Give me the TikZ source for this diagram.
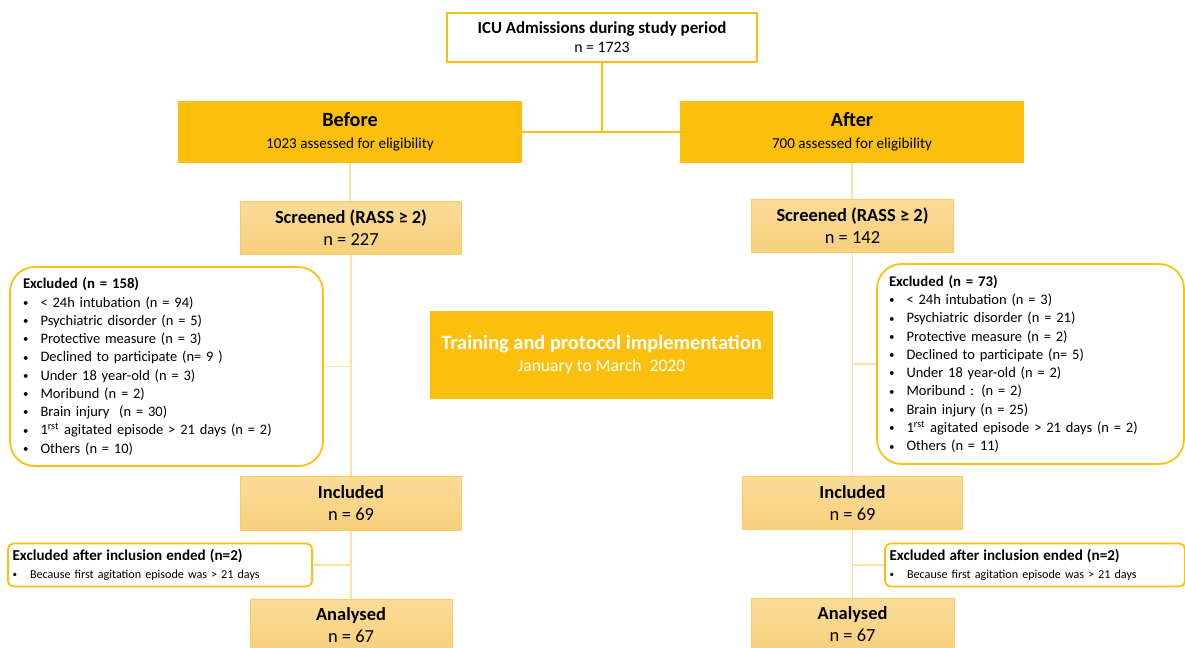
\documentclass[tikz,border=0pt]{standalone}
\usepackage{fontspec}
\setmainfont{Carlito}
\usepackage{tikz}
\usetikzlibrary{positioning}
\definecolor{fcgold}{RGB}{252,192,12}
\definecolor{fctop}{RGB}{250,219,152}
\definecolor{fcbot}{RGB}{248,208,124}
\definecolor{fcedge}{RGB}{250,204,100}
\definecolor{fcline}{RGB}{252,226,160}

\newcommand{\itm}[1]{\makebox[0.35cm][l]{\raisebox{0.1ex}{\scalebox{0.75}{\textbullet}}}#1}

\begin{document}
\begin{tikzpicture}[x=0.02cm, y=-0.02cm,
  topbox/.style={draw=fcgold, line width=1pt, fill=white, minimum width=6.2cm, minimum height=0.98cm, align=center, font=\fontsize{9}{10.8}\selectfont},
  phasebox/.style={fill=fcgold, minimum width=6.88cm, minimum height=1.24cm, align=center, font=\fontsize{8.6}{12.5}\selectfont},
  countbox/.style={draw=fcedge, line width=0.5pt, top color=fctop, bottom color=fcbot, minimum width=4.42cm, minimum height=1.07cm, align=center, font=\fontsize{10.5}{12.5}\selectfont},
  exclbox/.style={draw=fcgold, line width=1pt, rounded corners=14pt, fill=white, align=left, font=\fontsize{8.25}{10.4}\selectfont},
  postbox/.style={draw=fcgold, line width=1pt, rounded corners=3pt, fill=white, align=left, inner xsep=0.09cm, minimum height=0.76cm, font=\fontsize{6.9}{10.2}\selectfont},
  mainline/.style={draw=fcgold, line width=1pt},
  sideline/.style={draw=fcline, line width=1pt}]
  \useasboundingbox (0,0) rectangle (1185,648);

  % Top
  \node[topbox] (icu) at (602,37.5) {{\bfseries\fontsize{9.6}{10.8}\selectfont ICU Admissions during study period}\\n = 1723};

  % Periods
  \node[phasebox] (before) at (350,132) {{\bfseries\fontsize{11.5}{12.5}\selectfont Before}\\1023 assessed for eligibility};
  \node[phasebox] (after) at (852,132) {{\bfseries\fontsize{11.5}{12.5}\selectfont After}\\700 assessed for eligibility};

  \node[fill=fcgold, minimum width=6.86cm, minimum height=1.76cm, align=center, text=white, font=\fontsize{10}{12.5}\selectfont] (train) at (601.5,355)
    {{\bfseries\fontsize{11.6}{12.5}\selectfont Training and protocol implementation}\\January to March~ 2020};

  % Before column
  \node[countbox] (scrA) at (351,228) {\textbf{Screened (RASS ≥ 2)}\\n = 227};
  \node[exclbox, minimum height=3.98cm, text width=5.74cm, inner xsep=0.26cm] (excA) at (166.5,366.5) {{\bfseries\fontsize{8.4}{10.4}\selectfont Excluded (n = 158)}\\
    \itm{< 24h intubation (n = 94)}\\
    \itm{Psychiatric disorder (n = 5)}\\
    \itm{Protective measure (n = 3)}\\
    \itm{Declined to participate (n= 9 )}\\
    \itm{Under 18 year-old (n = 3)}\\
    \itm{Moribund (n = 2)}\\
    \itm{Brain injury~ (n = 30)}\\
    \itm{1\textsuperscript{rst} agitated episode > 21 days (n = 2)}\\
    \itm{Others (n = 10)}};
  \node[countbox] (incA) at (351,503.5) {\textbf{Included}\\n = 69};
  \node[postbox, text width=5.9cm] (postA) at (160,565) {{\bfseries\fontsize{8.6}{10.2}\selectfont Excluded after inclusion ended (n=2)}\\
    \itm{Because first agitation episode was > 21 days}};
  \node[countbox, minimum width=4.04cm, minimum height=1.04cm] (anaA) at (351,625) {\textbf{Analysed}\\n = 67};

  % After column
  \node[countbox, minimum width=4.04cm] (scrB) at (852.5,226) {\textbf{Screened (RASS ≥ 2)}\\n = 142};
  \node[exclbox, minimum height=4cm, text width=5.66cm, inner xsep=0.24cm] (excB) at (1030.5,364) {{\bfseries\fontsize{8.4}{10.4}\selectfont Excluded (n = 73)}\\
    \itm{< 24h intubation (n = 3)}\\
    \itm{Psychiatric disorder (n = 21)}\\
    \itm{Protective measure (n = 2)}\\
    \itm{Declined to participate (n= 5)}\\
    \itm{Under 18 year-old (n = 2)}\\
    \itm{Moribund : (n = 2)}\\
    \itm{Brain injury (n = 25)}\\
    \itm{1\textsuperscript{rst} agitated episode > 21 days (n = 2)}\\
    \itm{Others (n = 11)}};
  \node[countbox, minimum width=4.4cm] (incB) at (852.5,503) {\textbf{Included}\\n = 69};
  \node[postbox, text width=5.82cm] (postB) at (1035,565) {{\bfseries\fontsize{8.6}{10.2}\selectfont Excluded after inclusion ended (n=2)}\\
    \itm{Because first agitation episode was > 21 days}};
  \node[countbox, minimum width=4.06cm, minimum height=1.04cm] (anaB) at (852.5,624.5) {\textbf{Analysed}\\n = 67};

  % Connectors
  \draw[mainline] (icu.south) -- (icu.south |- before.east);
  \draw[mainline] (before.east) -- (after.west);

  \draw[sideline] (before.south) -- (before.south |- scrA.north);
  \draw[sideline] (scrA.south) -- (incA.north);
  \draw[sideline] (excA.east) -- (excA.east -| scrA.south);
  \draw[sideline] (incA.south) -- (anaA.north);
  \draw[sideline] (postA.east) -- (postA.east -| incA.south);

  \draw[sideline] (after.south) -- (after.south |- scrB.north);
  \draw[sideline] (scrB.south) -- (incB.north);
  \draw[sideline] (excB.west) -- (excB.west -| scrB.south);
  \draw[sideline] (incB.south) -- (anaB.north);
  \draw[sideline] (postB.west) -- (postB.west -| incB.south);
\end{tikzpicture}
\end{document}
